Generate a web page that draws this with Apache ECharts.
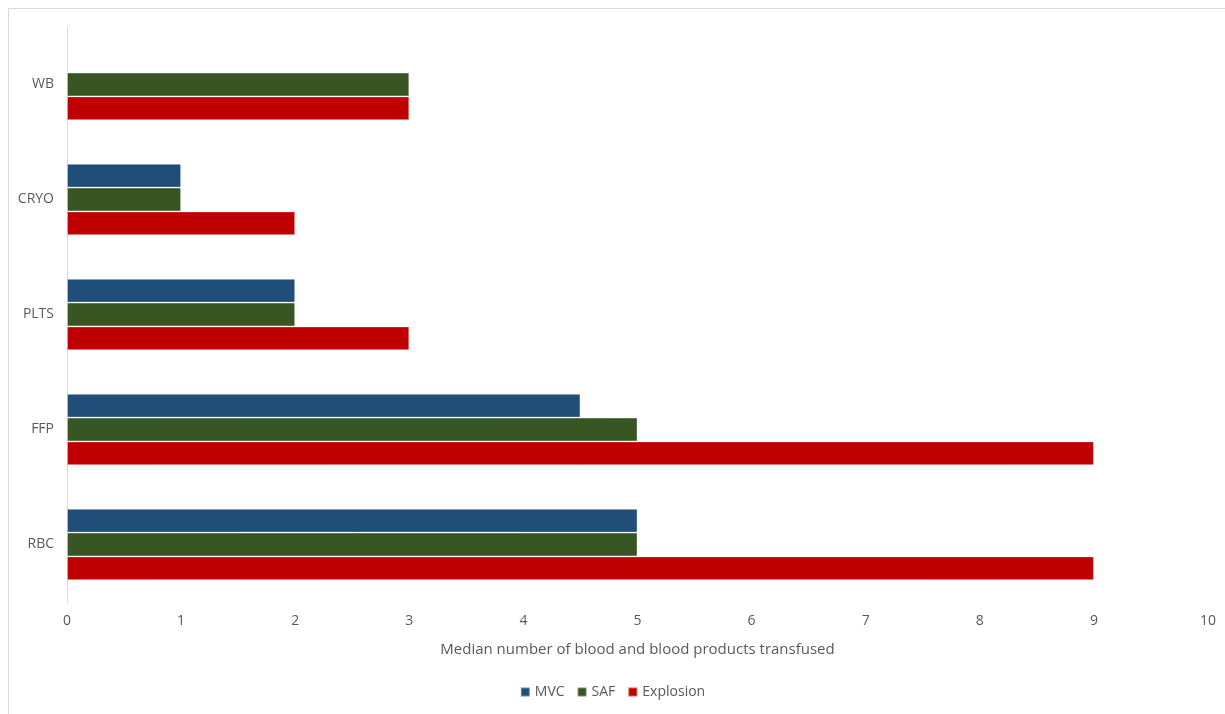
<!DOCTYPE html>
<html>
<head>
<meta charset="utf-8">
<script src="https://cdn.jsdelivr.net/npm/echarts@6/dist/echarts.min.js"></script>
<style>
html,body{margin:0;padding:0;background:#fff;}
#frame{position:absolute;left:8px;top:8px;width:1230px;height:720px;border:1px solid #d9d9d9;box-sizing:border-box;}
#chart{position:absolute;left:0;top:0;width:1225px;height:714px;}
</style>
</head>
<body>
<div id="frame"></div>
<div id="chart"></div>
<script>
const categories = ['RBC', 'FFP', 'PLTS', 'CRYO', 'WB'];
const mvc = [5, 4.5, 2, 1, null];
const saf = [5, 5, 2, 1, 3];
const explosion = [9, 9, 3, 2, 3];
const xTicks = [0, 1, 2, 3, 4, 5, 6, 7, 8, 9, 10];

const font = 'Open Sans';
const txt = '#595959';
const chart = echarts.init(document.getElementById('chart'));
const barStyle = (c) => ({ color: c, borderColor: 'rgba(255,255,255,0.35)', borderWidth: 1 });
chart.setOption({
  animation: false,
  grid: { left: 67, right: 17, top: 27, bottom: 112 },
  legend: {
    data: ['MVC', 'SAF', 'Explosion'],
    bottom: 10, left: 'center',
    itemWidth: 9, itemHeight: 9, itemGap: 12,
    icon: 'rect',
    textStyle: { color: txt, fontSize: 14, fontFamily: font }
  },
  xAxis: {
    type: 'value', min: xTicks[0], max: xTicks[xTicks.length - 1], interval: 1,
    name: 'Median number of blood and blood products transfused',
    nameLocation: 'middle', nameGap: 40,
    nameTextStyle: { color: txt, fontSize: 15, fontFamily: font },
    axisLine: { show: false }, axisTick: { show: false },
    splitLine: { show: false },
    axisLabel: { color: txt, fontSize: 14, fontFamily: font, margin: 12 }
  },
  yAxis: {
    type: 'category', data: categories,
    axisLine: { show: true, lineStyle: { color: '#d9d9d9', width: 1 } },
    axisTick: { show: false },
    axisLabel: { color: txt, fontSize: 14, fontFamily: font, margin: 13 }
  },
  series: [
    { name: 'MVC', type: 'bar', data: mvc, barGap: '0%', barCategoryGap: '38%', itemStyle: barStyle('#1f4e79') },
    { name: 'SAF', type: 'bar', data: saf, barGap: '0%', barCategoryGap: '38%', itemStyle: barStyle('#375623') },
    { name: 'Explosion', type: 'bar', data: explosion, barGap: '0%', barCategoryGap: '38%', itemStyle: barStyle('#c00000') }
  ]
});
</script>
</body>
</html>
